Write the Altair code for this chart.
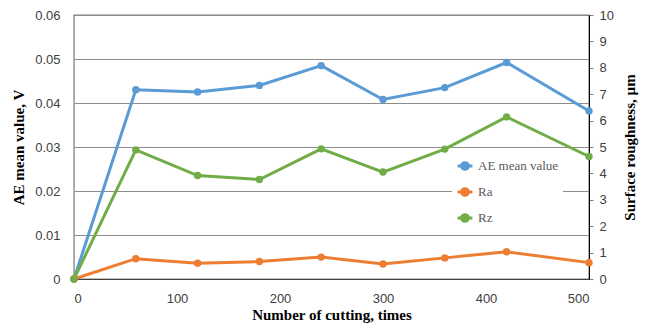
import altair as alt
import pandas as pd

cycles = [0, 60, 120, 180, 240, 300, 360, 420, 500]
ae_mean = [0.0, 0.0430, 0.0425, 0.0440, 0.0485, 0.0408, 0.0435, 0.0492, 0.0382]
ra = [0.0, 0.77, 0.60, 0.66, 0.83, 0.57, 0.80, 1.03, 0.62]
rz = [0.0, 4.89, 3.92, 3.77, 4.93, 4.05, 4.92, 6.14, 4.64]

series_names = ["AE mean value", "Ra", "Rz"]
series_colors = ["#5B9BD5", "#ED7D31", "#70AD47"]

ae_df = pd.DataFrame({"x": cycles, "y": ae_mean, "series": "AE mean value"})
rough_df = pd.concat([
    pd.DataFrame({"x": cycles, "y": ra, "series": "Ra"}),
    pd.DataFrame({"x": cycles, "y": rz, "series": "Rz"}),
])

color = alt.Color(
    "series:N",
    scale=alt.Scale(domain=series_names, range=series_colors),
    legend=alt.Legend(
        title=None, orient="none", legendX=378, legendY=138,
        labelFont="Liberation Serif", labelFontSize=13, labelColor="#595959",
        symbolType="M-1,0L1,0M-0.45,0A0.45,0.45 0 1,1 0.45,0A0.45,0.45 0 1,1 -0.45,0Z",
        symbolSize=220, symbolStrokeWidth=3, rowPadding=6,
        fillColor="white", padding=4, labelOffset=4,
    ),
)

xenc = alt.X(
    "x:Q",
    scale=alt.Scale(domain=[0, 500], nice=False),
    axis=alt.Axis(
        title="Number of cutting, times", values=[0, 100, 200, 300, 400, 500],
        grid=False, ticks=False, labelPadding=13, domainColor="#404040",
        titleFont="Liberation Serif", titleFontSize=15, titleFontWeight="bold",
        titleColor="black", titlePadding=2,
    ),
)

left = alt.Chart(ae_df).mark_line(
    strokeWidth=3, point=alt.OverlayMarkDef(filled=True, size=55)
).encode(
    x=xenc,
    y=alt.Y(
        "y:Q",
        scale=alt.Scale(domain=[0, 0.06], nice=False),
        axis=alt.Axis(
            title="AE mean value, V", values=[0, 0.01, 0.02, 0.03, 0.04, 0.05, 0.06],
            format="~g", ticks=False, labelPadding=14, domainColor="#A6A6A6",
            gridColor="#8C8C8C", gridWidth=1.2,
            titleFont="Liberation Serif", titleFontSize=15, titleFontWeight="bold",
            titleColor="black", titlePadding=8,
        ),
    ),
    color=color,
)

right = alt.Chart(rough_df).mark_line(
    strokeWidth=3, point=alt.OverlayMarkDef(filled=True, size=55)
).encode(
    x=xenc,
    y=alt.Y(
        "y:Q",
        scale=alt.Scale(domain=[0, 10], nice=False),
        axis=alt.Axis(
            title="Surface roughness, µm", orient="right", values=list(range(0, 11)),
            grid=False, tickSize=4, tickColor="#808080", labelPadding=6,
            domainColor="black", titleAngle=270, titleBaseline="bottom",
            titleFont="Liberation Serif", titleFontSize=15, titleFontWeight="bold",
            titleColor="black", titlePadding=24,
        ),
    ),
    color=color,
)

chart = alt.layer(left, right).resolve_scale(y="independent").properties(
    width=515, height=264,
    autosize=alt.AutoSizeParams(type="none"),
    padding={"left": 66, "top": 7, "right": 60, "bottom": 44},
).configure_view(
    stroke="black", strokeWidth=1.2
).configure_axis(
    labelFont="Liberation Sans", labelFontSize=13, labelColor="#404040"
)

chart.save("out.html", embed_options={"renderer": "svg", "actions": False})
